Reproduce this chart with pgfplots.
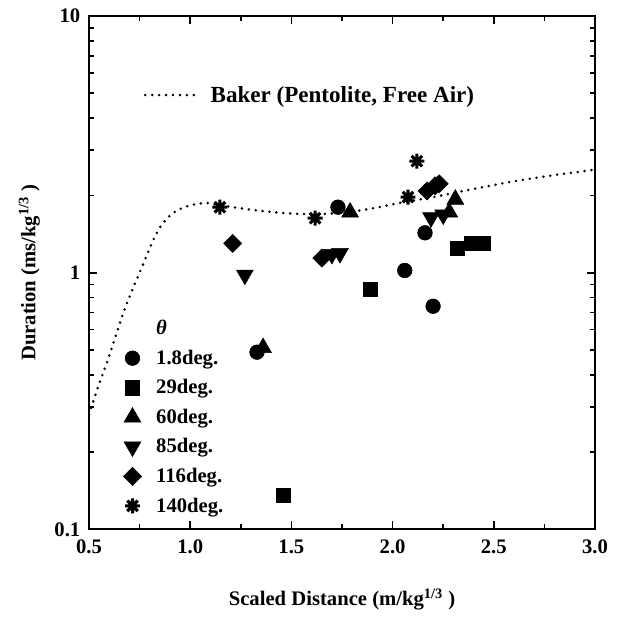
\documentclass[border=0pt]{standalone}
\usepackage{fontspec}
\setmainfont{Liberation Serif}
\usepackage{pgfplots}
\pgfplotsset{compat=1.18}
\pgfdeclareplotmark{star8}{%
  \pgfpathmoveto{\pgfqpoint{0pt}{\pgfplotmarksize}}\pgfpathlineto{\pgfqpoint{0pt}{-\pgfplotmarksize}}%
  \pgfpathmoveto{\pgfqpoint{\pgfplotmarksize}{0pt}}\pgfpathlineto{\pgfqpoint{-\pgfplotmarksize}{0pt}}%
  \pgfpathmoveto{\pgfqpoint{0.707\pgfplotmarksize}{0.707\pgfplotmarksize}}\pgfpathlineto{\pgfqpoint{-0.707\pgfplotmarksize}{-0.707\pgfplotmarksize}}%
  \pgfpathmoveto{\pgfqpoint{-0.707\pgfplotmarksize}{0.707\pgfplotmarksize}}\pgfpathlineto{\pgfqpoint{0.707\pgfplotmarksize}{-0.707\pgfplotmarksize}}%
  \pgfusepathqstroke}
\tikzset{bakerline/.style={black, line width=2.1pt, line cap=round, dash pattern=on 0pt off 5.2pt}}
\newcommand{\legtxt}[1]{\hspace*{9pt}#1}
\begin{document}
\begin{tikzpicture}
\begin{axis}[
  name=main,
  scale only axis, width=379.5pt, height=385pt,
  xmin=0.5, xmax=3.0, ymode=log, ymin=0.1, ymax=10,
  xtick={0.5,1.0,1.5,2.0,2.5,3.0},
  minor xtick={0.75,1.25,1.75,2.25,2.75},
  ytick={0.1,1,10}, yticklabels={0.1,1,10},
  xticklabel style={/pgf/number format/fixed, /pgf/number format/fixed zerofill, /pgf/number format/precision=1, yshift=-4pt},
  yticklabel style={xshift=-3pt},
  /pgf/number format/assume math mode=true,
  tick label style={font=\bfseries\fontsize{15.5}{16}\selectfont},
  label style={font=\bfseries\fontsize{15.5}{16}\selectfont},
  xlabel={Scaled Distance (m/kg\textsuperscript{1/3} )},
  ylabel={Duration (ms/kg\textsuperscript{1/3} )},
  xlabel style={yshift=-20pt},
  ylabel style={yshift=4pt},
  tick align=inside, ticks=both,
  major tick length=6pt, minor tick length=4pt,
  every tick/.style={black, line width=1.3pt},
  axis line style={line width=1.6pt},
  clip=true,
  legend style={at={(0.055,0.418)}, anchor=north west, draw=none, fill=none,
    font=\bfseries\fontsize{15.5}{15.5}\selectfont, row sep=5.9pt,
    cells={anchor=west}},
  legend cell align=left,
]
\addplot[bakerline, smooth, forget plot] coordinates {
(0.5,0.28) (0.54,0.35) (0.59,0.45) (0.63,0.56) (0.67,0.70) (0.72,0.88)
(0.77,1.09) (0.81,1.30) (0.85,1.50) (0.9,1.67) (0.95,1.77) (1.0,1.83)
(1.08,1.87) (1.15,1.83) (1.3,1.76) (1.45,1.71) (1.6,1.69) (1.75,1.71)
(1.9,1.78) (2.05,1.88) (2.2,1.97) (2.4,2.12) (2.6,2.27) (2.8,2.40) (3.0,2.52)};
\addlegendimage{empty legend}
\addlegendentry{\legtxt{\textit{θ}}}
\addplot[only marks, mark=*, mark size=5.5pt, black] coordinates {
(1.73,1.80) (1.33,0.49) (2.06,1.02) (2.20,0.74) (2.16,1.43)};
\addlegendentry{\legtxt{1.8deg.}}
\addplot[only marks, mark=square*, mark size=5.3pt, black] coordinates {
(1.46,0.136) (1.89,0.86) (2.32,1.24) (2.39,1.30) (2.45,1.30)};
\addlegendentry{\legtxt{29deg.}}
\addplot[only marks, mark=triangle*, mark size=7.3pt, black] coordinates {
(1.36,0.51) (1.79,1.72) (2.31,1.93) (2.28,1.72)};
\addlegendentry{\legtxt{60deg.}}
\addplot[only marks, mark=triangle*, mark size=7.3pt, black, mark options={rotate=180}] coordinates {
(1.27,0.98) (1.70,1.18) (1.74,1.19) (2.19,1.64) (2.25,1.68)};
\addlegendentry{\legtxt{85deg.}}
\addplot[only marks, mark=square*, mark size=4.8pt, black, mark options={rotate=45}] coordinates {
(1.21,1.30) (1.65,1.14) (2.17,2.08) (2.21,2.18) (2.23,2.22)};
\addlegendentry{\legtxt{116deg.}}
\addplot[only marks, mark=star8, mark size=5.6pt, black, mark options={line width=2.3pt}] coordinates {
(1.147,1.80) (1.617,1.63) (2.12,2.72) (2.076,1.97)};
\addlegendentry{\legtxt{140deg.}}
\end{axis}
\begin{axis}[
  scale only axis, width=379.5pt, height=385pt,
  at={(main.south west)}, anchor=south west,
  xmin=0.5, xmax=3.0, ymin=0, ymax=1, hide axis,
  legend style={at={(0.10,0.846)}, anchor=west, draw=none, fill=none,
    font=\bfseries\fontsize{17.3}{18}\selectfont},
  legend image code/.code={\draw[#1] (0pt,0pt) -- (40pt,0pt);},
]
\addlegendimage{bakerline}
\addlegendentry{\hspace*{6pt}Baker (Pentolite, Free Air)}
\end{axis}
\path ([xshift=-66.75pt,yshift=-66pt]main.south west) rectangle ([xshift=21pt,yshift=12pt]main.north east);
\end{tikzpicture}
\end{document}
